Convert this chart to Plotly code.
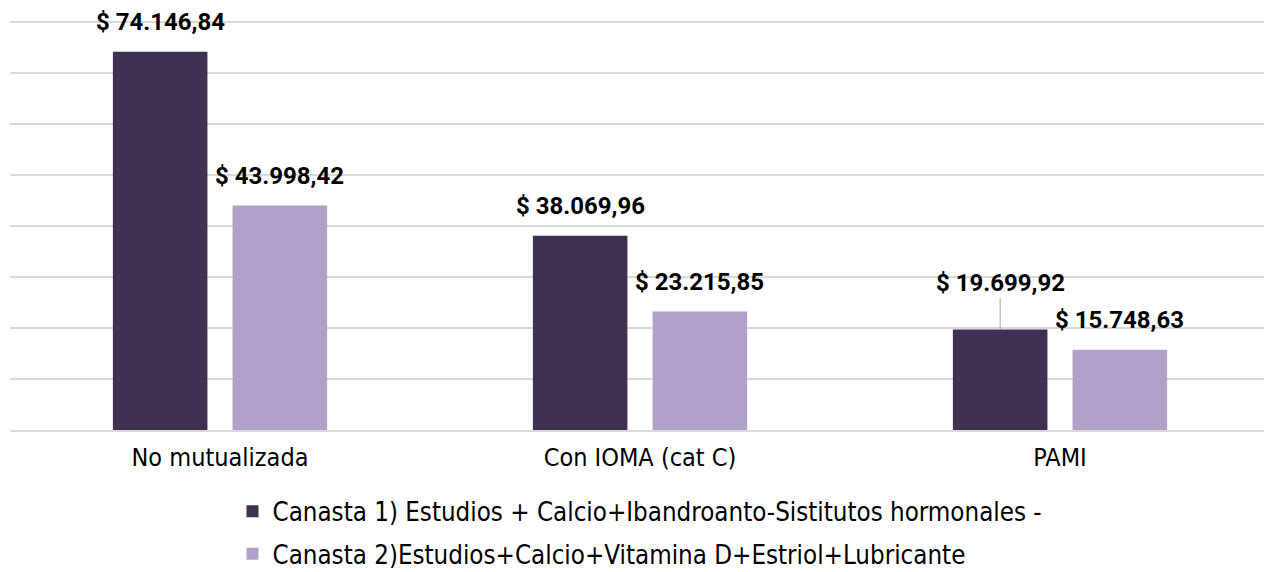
import plotly.graph_objects as go

categories = ["No mutualizada", "Con IOMA (cat C)", "PAMI"]
series_names = [
    "Canasta 1) Estudios + Calcio+Ibandroanto-Sistitutos hormonales -",
    "Canasta 2)Estudios+Calcio+Vitamina D+Estriol+Lubricante",
]
canasta1 = [74146.84, 38069.96, 19699.92]
canasta2 = [43998.42, 23215.85, 15748.63]
colors = ["#403152", "#B1A0C7"]

def fmt(v):
    s = f"{v:,.2f}"
    s = s.replace(",", "X").replace(".", ",").replace("X", ".")
    return "$ " + s

LABEL_FONT = "Roboto, DejaVu Sans Condensed, sans-serif"
TEXT_FONT = "DejaVu Sans Condensed, DejaVu Sans, sans-serif"

fig = go.Figure()
for name, vals, col in zip(series_names, [canasta1, canasta2], colors):
    fig.add_trace(go.Bar(
        x=categories, y=vals, name=name, marker_color=col,
        marker_line_width=0, legendgroup=name,
    ))

# data labels (bar offset within group = half a slot)
bargap, bargroupgap = 0.43, 0.21
half_slot = (1 - bargap) / 4
offsets = [-half_slot, half_slot]
for si, vals in enumerate([canasta1, canasta2]):
    for ci, v in enumerate(vals):
        leader = (si == 0 and ci == 2)
        fig.add_annotation(
            x=ci + offsets[si], y=v, xref="x", yref="y",
            text="<b>" + fmt(v) + "</b>",
            showarrow=leader, arrowhead=0, arrowwidth=1, arrowcolor="#A6A6A6",
            ax=0, ay=-47 if leader else 0, standoff=0,
            yanchor="middle" if not leader else "auto",
            yshift=0 if leader else 30,
            font=dict(family=LABEL_FONT, size=24, color="#000000"),
        )

# page body has an 8px margin: compensate in figure size/margins
fig.update_layout(
    width=1264, height=564,
    margin=dict(l=2, r=2, t=13, b=142, autoexpand=False),
    plot_bgcolor="white", paper_bgcolor="white",
    barmode="group", bargap=bargap, bargroupgap=bargroupgap,
    font=dict(family=TEXT_FONT, size=25, color="#000000"),
    showlegend=True,
    legend=dict(
        orientation="v", x=0.5, xanchor="center", y=-0.142, yanchor="top",
        font=dict(family=TEXT_FONT, size=25.7), traceorder="grouped",
        tracegroupgap=6, itemwidth=30,
    ),
)
fig.update_xaxes(showline=True, linecolor="#D9D9D9", linewidth=2,
                 ticks="", tickfont=dict(size=25), ticklabelstandoff=4)
fig.update_yaxes(range=[0, 80200], tick0=0, dtick=10000, showgrid=True,
                 gridcolor="#D9D9D9", gridwidth=2, showticklabels=False,
                 zeroline=False)

fig.write_html("out.html")
